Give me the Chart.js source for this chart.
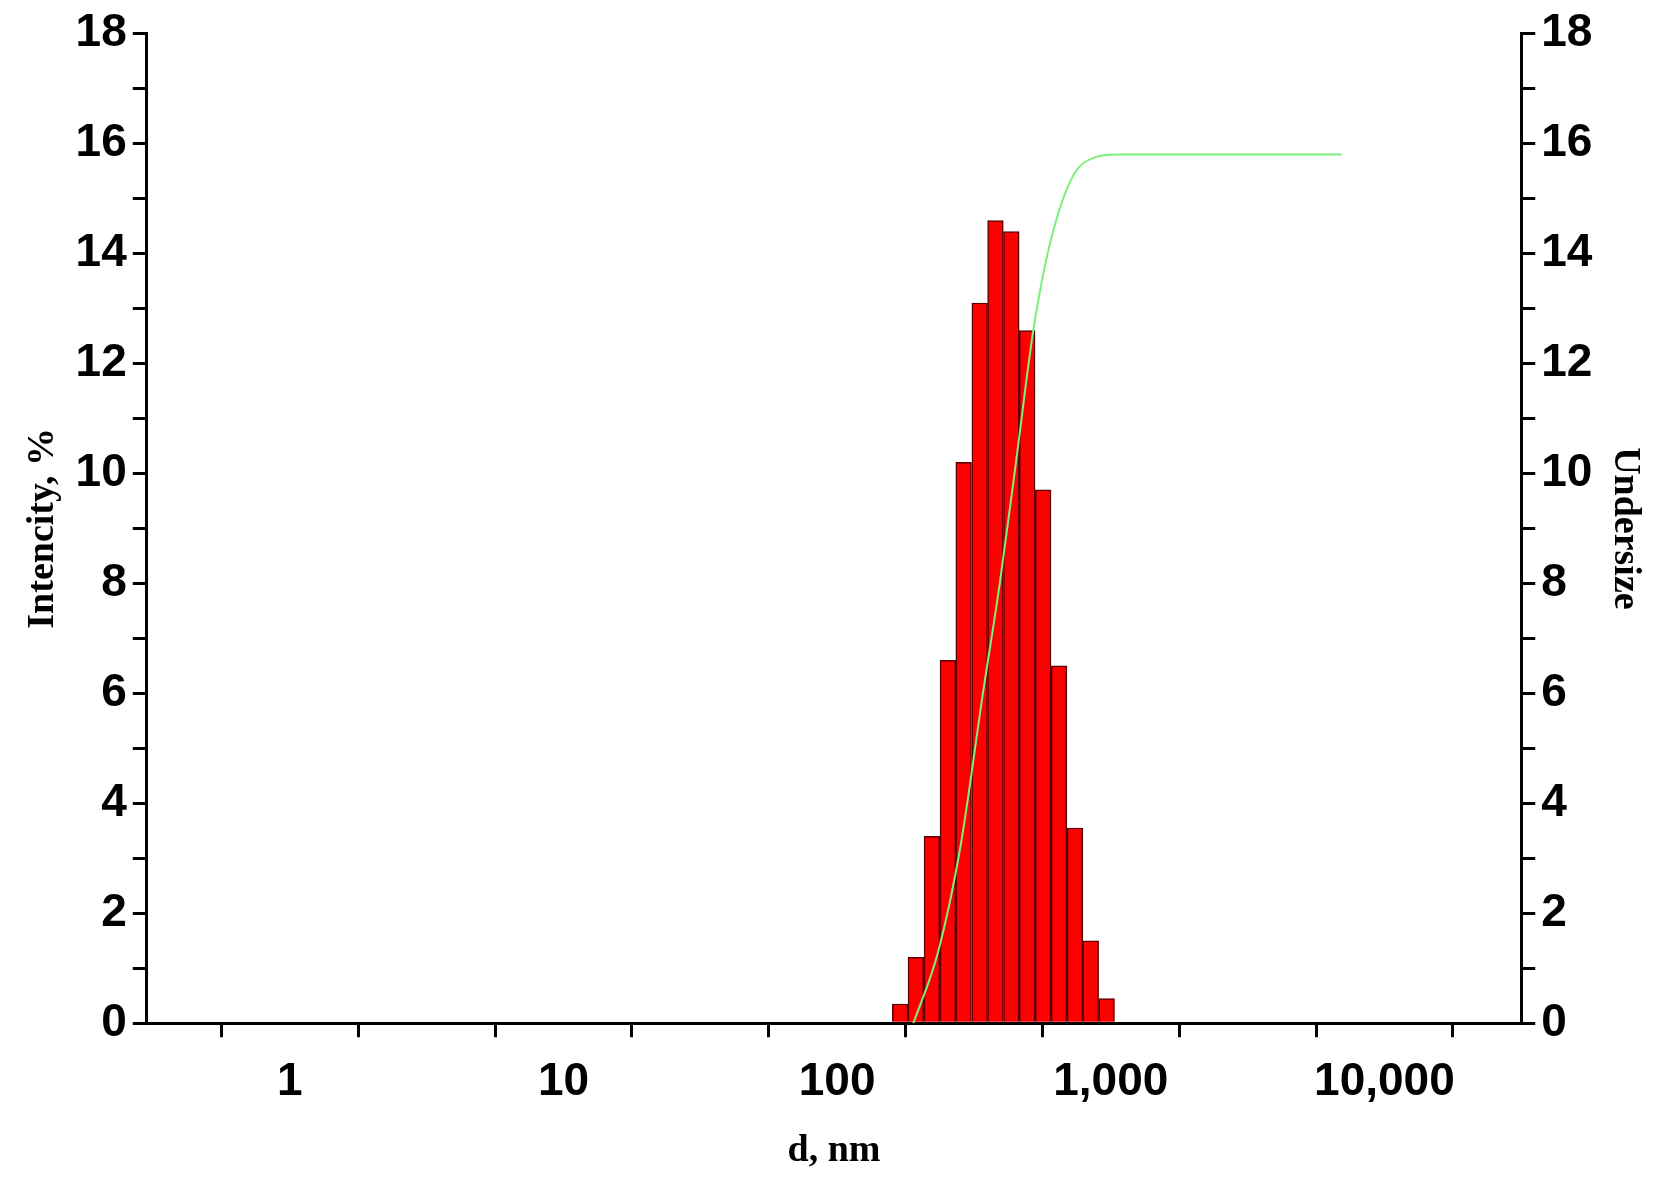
<!DOCTYPE html>
<html>
<head>
<meta charset="utf-8">
<script src="https://cdn.jsdelivr.net/npm/chart.js@4"></script>
<style>
  html, body { margin: 0; padding: 0; background: #fff; }
  #wrap { width: 1668px; height: 1198px; }
</style>
</head>
<body>
<div id="wrap"><canvas id="myChart"></canvas></div>
<script>
// bar centres (nm) and intensity (%)
const diameters = [170, 194, 222, 254, 290, 332, 379, 433, 495, 566, 647, 740, 845, 966];
const intensity = [0.35, 1.2, 3.4, 6.6, 10.2, 13.1, 14.6, 14.4, 12.6, 9.7, 6.5, 3.55, 1.5, 0.45];

// cumulative undersize curve
const undersizeD = [190, 234, 282, 341, 393, 453, 521, 601, 726, 877, 1059, 2000, 4000, 6980];
const undersize = [0, 1.3, 3.2, 6.0, 8.0, 10.3, 12.6, 14.2, 15.4, 15.75, 15.8, 15.8, 15.8, 15.8];

const xTicks = [1, 10, 100, 1000, 10000];
const yTicks = [0, 2, 4, 6, 8, 10, 12, 14, 16, 18];

const tickFont = { family: "'Liberation Sans', Arial", size: 46, weight: 'bold' };
const titleFont = { family: "'Liberation Serif', 'Times New Roman'", size: 38, weight: 'bold' };

const barData = diameters.map((d, i) => ({ x: d, y: intensity[i] }));
const lineData = undersizeD.map((d, i) => ({ x: d, y: undersize[i] }));

const xMinorTicks = (scale) => {
    const ticks = [];
    for (let k = -1; k <= 4; k++) {
        ticks.push({ value: Math.pow(10, k) });
        ticks.push({ value: Math.pow(10, k + 0.5) });
    }
    scale.ticks = ticks.filter(t => t.value >= scale.min && t.value <= scale.max);
};

const yMinorTicks = (scale) => {
    const ticks = [];
    for (let v = 0; v <= 18; v++) ticks.push({ value: v });
    scale.ticks = ticks;
};

const yAxis = (position, title) => ({
    type: 'linear',
    position: position,
    min: 0,
    max: 18,
    afterBuildTicks: yMinorTicks,
    border: { display: true, color: '#000', width: 3 },
    grid: { drawOnChartArea: false, color: '#000', lineWidth: 3, tickLength: 14,
            tickColor: '#000' },
    ticks: {
        color: '#000', font: tickFont, padding: 6, autoSkip: false,
        callback: (v) => yTicks.includes(v) ? String(v) : ''
    },
    title: { display: true, text: title, color: '#000', font: titleFont, padding: { top: 0, bottom: 4 } }
});

const ctx = document.getElementById('myChart').getContext('2d');
const myChart = new Chart(ctx, {
    type: 'bar',
    data: {
        datasets: [
            {
                type: 'line',
                label: 'Undersize',
                data: lineData,
                yAxisID: 'y2',
                borderColor: '#7cf07c',
                borderWidth: 2,
                pointRadius: 0,
                tension: 0.4,
                cubicInterpolationMode: 'monotone'
            },
            {
                label: 'Intencity, %',
                data: barData,
                yAxisID: 'y',
                backgroundColor: '#ff0000',
                borderColor: '#5a0000',
                borderWidth: 1.5,
                barPercentage: 1,
                categoryPercentage: 1
            }
        ]
    },
    options: {
        responsive: true,
        maintainAspectRatio: false,
        animation: false,
        layout: { padding: { left: 20, right: 20, top: 28, bottom: 20 } },
        plugins: { legend: { display: false }, tooltip: { enabled: false } },
        scales: {
            x: {
                type: 'logarithmic',
                min: Math.pow(10, -0.5),
                max: Math.pow(10, 4.5),
                afterBuildTicks: xMinorTicks,
                border: { display: true, color: '#000', width: 3 },
                grid: { drawOnChartArea: false, color: '#000', lineWidth: 3, tickLength: 14 },
                ticks: {
                    color: '#000', font: tickFont, padding: 18, autoSkip: false, maxRotation: 0,
                    callback: function (v) {
                        return xTicks.includes(Math.round(v * 1000) / 1000) ? v.toLocaleString('en-US') : '';
                    }
                },
                title: { display: true, text: 'd, nm', color: '#000', font: titleFont, padding: { top: 0 } }
            },
            y: yAxis('left', 'Intencity, %'),
            y2: yAxis('right', 'Undersize')
        }
    }
});
</script>
</body>
</html>
